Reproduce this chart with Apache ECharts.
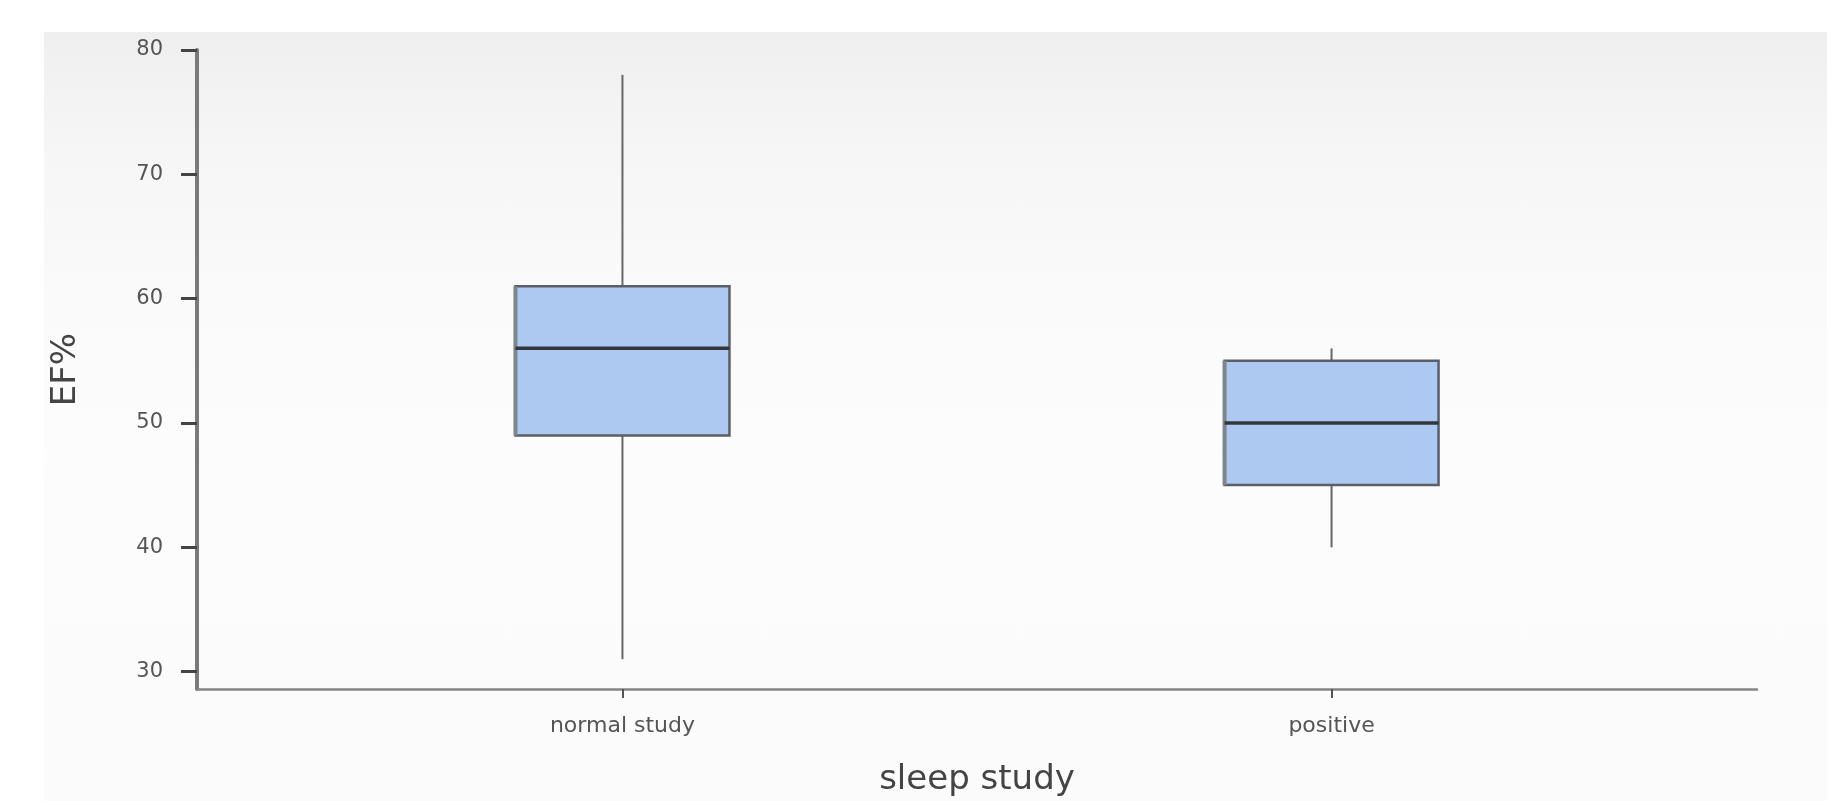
<!DOCTYPE html>
<html>
<head>
<meta charset="utf-8">
<title>EF% by sleep study</title>
<script src="https://cdn.jsdelivr.net/npm/echarts@6/dist/echarts.min.js"></script>
<style>
  html, body { margin: 0; padding: 0; background: #ffffff; }
  .ef-wrap { position: relative; width: 1827px; height: 801px; overflow: hidden; }
  .ef-panel {
    position: absolute; left: 44px; top: 32px; right: 0; bottom: 0;
    background: linear-gradient(to bottom, #efefef 0px, #f6f6f6 120px, #fafafa 260px, #fcfcfc 420px, #fbfbfb 100%);
  }
  #ef-chart { position: absolute; left: 0; top: 0; width: 1827px; height: 801px; }
</style>
</head>
<body>
<div class="ef-wrap">
  <div class="ef-panel"></div>
  <div id="ef-chart"></div>
</div>
<script>
// five-number summaries per group
const categories = ['normal study', 'positive'];
const lowValues = [31, 40];
const q1Values = [49, 45];
const medianValues = [56, 50];
const q3Values = [61, 55];
const highValues = [78, 56];
const yTicks = [30, 40, 50, 60, 70, 80];
const xTicks = [0, 1];

const boxData = categories.map((c, i) =>
  [i, lowValues[i], q1Values[i], medianValues[i], q3Values[i], highValues[i]]);

const font = 'DejaVu Sans';

function renderBox(params, api) {
  const x = api.value(0);
  const lo = api.coord([x, api.value(1)]);
  const q1 = api.coord([x, api.value(2)]);
  const med = api.coord([x, api.value(3)]);
  const q3 = api.coord([x, api.value(4)]);
  const hi = api.coord([x, api.value(5)]);
  const half = 107;
  const cx = med[0];
  return {
    type: 'group',
    children: [
      {
        type: 'line',
        shape: { x1: cx, y1: lo[1], x2: cx, y2: q1[1] },
        style: { stroke: '#666666', lineWidth: 2 }
      },
      {
        type: 'line',
        shape: { x1: cx, y1: q3[1], x2: cx, y2: hi[1] },
        style: { stroke: '#666666', lineWidth: 2 }
      },
      {
        type: 'rect',
        shape: { x: cx - half, y: q3[1], width: half * 2, height: q1[1] - q3[1] },
        style: { fill: '#adc9f1', stroke: '#5a5f66', lineWidth: 2.5 }
      },
      {
        type: 'line',
        shape: { x1: cx - half, y1: q3[1], x2: cx - half, y2: q1[1] },
        style: { stroke: '#7d8590', lineWidth: 4 }
      },
      {
        type: 'line',
        shape: { x1: cx - half, y1: med[1], x2: cx + half, y2: med[1] },
        style: { stroke: '#33373c', lineWidth: 3.5 }
      }
    ]
  };
}

const chart = echarts.init(document.getElementById('ef-chart'));
chart.setOption({
  backgroundColor: 'transparent',
  animation: false,
  grid: {
    left: 197,
    right: 70,
    top: 50,
    bottom: 112,
    outerBoundsMode: 'none'
  },
  xAxis: {
    type: 'value',
    min: -0.6,
    max: 1.6,
    name: 'sleep study',
    nameLocation: 'middle',
    nameGap: 74,
    nameTextStyle: { fontFamily: font, fontSize: 34, color: '#444444' },
    splitLine: { show: false },
    axisLine: { show: true, onZero: false, lineStyle: { color: '#858585', width: 2.5 } },
    axisTick: {
      show: true,
      length: 9,
      customValues: xTicks,
      lineStyle: { color: '#555555', width: 2 }
    },
    axisLabel: {
      customValues: xTicks,
      margin: 26,
      fontFamily: font,
      fontSize: 22,
      color: '#555555',
      formatter: (v) => categories[Math.round(v)]
    }
  },
  yAxis: {
    type: 'value',
    min: 28.6,
    max: 80,
    name: 'EF%',
    nameLocation: 'middle',
    nameGap: 114,
    nameTextStyle: { fontFamily: font, fontSize: 34, color: '#444444' },
    splitLine: { show: false },
    axisLine: { show: true, onZero: false, lineStyle: { color: '#7a7a7a', width: 4 } },
    axisTick: {
      show: true,
      length: 16,
      customValues: yTicks,
      lineStyle: { color: '#444444', width: 3 }
    },
    axisLabel: {
      customValues: yTicks,
      margin: 34,
      fontFamily: font,
      fontSize: 21,
      color: '#555555'
    }
  },
  series: [
    {
      type: 'custom',
      renderItem: renderBox,
      encode: { x: 0, y: [1, 2, 3, 4, 5] },
      data: boxData,
      clip: false
    }
  ]
});
</script>
</body>
</html>
